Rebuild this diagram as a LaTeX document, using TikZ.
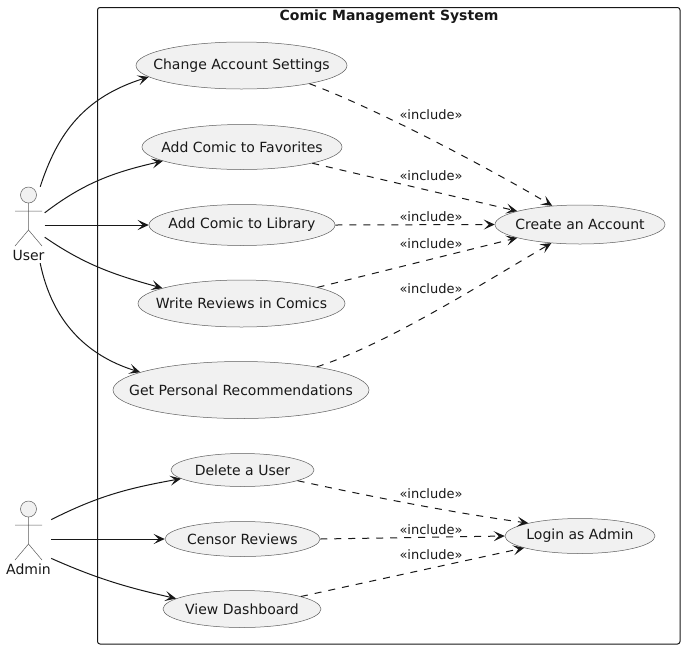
\documentclass[tikz,border=0pt]{standalone}
\usepackage{fontspec}
\setmainfont{DejaVu Sans}
\usetikzlibrary{arrows.meta,shapes.geometric}
\definecolor{umlfill}{HTML}{F1F1F1}
\definecolor{umlline}{HTML}{181818}
\newcommand{\uctext}[1]{\makebox[0pt]{#1}}
\tikzset{
  usecase/.style={ellipse,draw=umlline!70,line width=0.5pt,fill=umlfill,inner sep=0pt,text=umlline},
  actorbox/.style={minimum width=32pt,minimum height=76pt,inner sep=0pt},
  actorline/.style={draw=umlline!70,line width=0.5pt},
  assoc/.style={umlline,line width=1pt,->},
  incl/.style={umlline,line width=1pt,->,dash pattern=on 7pt off 7pt},
  stereo/.style={font=\fontsize{13}{15}\selectfont,text=umlline,inner sep=0pt},
}
\begin{document}
\begin{tikzpicture}[x=1pt,y=-1pt,>={Stealth[length=11pt,width=10pt,inset=5pt]},font=\fontsize{14}{16}\selectfont,line cap=butt]
\useasboundingbox (0,0) rectangle (685,649);
\fill[white] (0,0) rectangle (685,649);
% system frame
\draw[umlline,line width=1pt,rounded corners=2.5pt] (97.5,7.5) rectangle (680,644);
\node[font=\fontsize{14}{16}\selectfont\bfseries,text=umlline,inner sep=0pt] (systitle) at (389,17) {Comic Management System};
% actors
\node[actorbox] (user) at (28.5,225) {};
\draw[actorline,fill=umlfill] (28.5,195) circle (8pt);
\draw[actorline] (28.5,203) -- (28.5,230) (15,211) -- (42,211) (15,246) -- (28.5,230) -- (42,246);
\node[inner sep=0pt,text=umlline] (userlabel) at (28.5,255) {User};
\node[actorbox,minimum width=51pt,minimum height=50pt] (admin) at (25.5,539) {};
\draw[actorline,fill=umlfill] (28.5,509) circle (8pt);
\draw[actorline] (28.5,517) -- (28.5,544) (15,525) -- (42,525) (15,560) -- (28.5,544) -- (42,560);
\node[inner sep=0pt,text=umlline] (adminlabel) at (28.5,569) {Admin};
% use cases
\node[usecase,minimum width=211pt,minimum height=47pt] (settings) at (241.5,65.5) {\uctext{Change Account Settings}};
\node[usecase,minimum width=200pt,minimum height=45pt] (favorites) at (242,147) {\uctext{Add Comic to Favorites}};
\node[usecase,minimum width=186pt,minimum height=41pt] (library) at (242,225) {\uctext{Add Comic to Library}};
\node[usecase,minimum width=207pt,minimum height=47pt] (reviews) at (241.5,303.5) {\uctext{Write Reviews in Comics}};
\node[usecase,minimum width=256pt,minimum height=57pt] (recommend) at (241,390) {\uctext{Get Personal Recommendations}};
\node[usecase,minimum width=143pt,minimum height=33pt] (deluser) at (242.5,470) {\uctext{Delete a User}};
\node[usecase,minimum width=155pt,minimum height=35pt] (censor) at (242.5,539) {\uctext{Censor Reviews}};
\node[usecase,minimum width=158pt,minimum height=37pt] (dashboard) at (242,609) {\uctext{View Dashboard}};
\node[usecase,minimum width=170pt,minimum height=39pt] (account) at (580,224.5) {\uctext{Create an Account}};
\node[usecase,minimum width=150pt,minimum height=35pt] (login) at (580,536) {\uctext{Login as Admin}};
% user links
\draw[assoc] (user.73) .. controls (58,132) and (85,97) .. (settings.187.3);
\draw[assoc] (user.37) .. controls (85,182) and (115,172) .. (favorites.190.6);
\draw[assoc] (user.east) -- (library.west);
\draw[assoc] (user.-37) .. controls (85,265) and (115,275) .. (reviews.169.1);
\draw[assoc] (user.-73) .. controls (52,320) and (85,355) .. (recommend.170.2);
% admin links
\draw[assoc] (admin.37) .. controls (100,495) and (130,488) .. (deluser.188.5);
\draw[assoc] (admin.east) -- (censor.west);
\draw[assoc] (admin.-37) .. controls (100,580) and (130,588) .. (dashboard.171.2);
% includes
\draw[incl] (settings.345) .. controls (370,106) and (480,163) .. (account.146.6);
\draw[incl] (favorites.347) -- (account.168);
\draw[incl] (library.east) -- (account.west);
\draw[incl] (reviews.12.7) -- (account.192.7);
\draw[incl] (recommend.17.7) .. controls (385,345) and (480,285) .. (account.213.4);
\draw[incl] (deluser.349.8) .. controls (345,491) and (440,511) .. (login.166);
\draw[incl] (censor.east) -- (login.west);
\draw[incl] (dashboard.12.5) -- (login.192.7);
\node[stereo] (inclA) at (431,115) {«include»};
\node[stereo] (inclB) at (431,176) {«include»};
\node[stereo] (inclC) at (431,217) {«include»};
\node[stereo] (inclD) at (431,244) {«include»};
\node[stereo] (inclE) at (431,289) {«include»};
\node[stereo] (inclF) at (431,494) {«include»};
\node[stereo] (inclG) at (431,530) {«include»};
\node[stereo] (inclH) at (431,555) {«include»};
\end{tikzpicture}
\end{document}
